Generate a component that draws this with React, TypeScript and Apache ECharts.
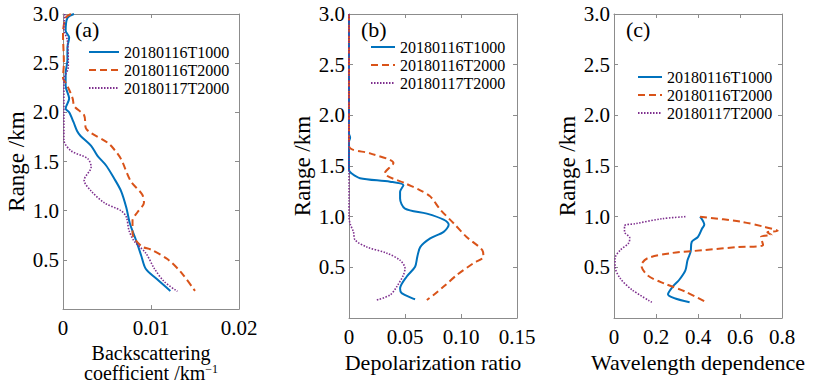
import React, { useEffect, useRef } from "react";
import * as echarts from "echarts";

const seriesNames = ["20180116T1000", "20180116T2000", "20180117T2000"];
const seriesColors = ["#0072BD", "#D95319", "#7E2F8E"];
const panelLabels = ["(a)", "(b)", "(c)"];
const xTitles = ["Backscattering\ncoefficient /km{sup|−1}", "Depolarization ratio", "Wavelength dependence"];
const yTitle = "Range /km";
const xMaxes = [0.02, 0.15, 0.8];
const xIntervals = [0.01, 0.05, 0.2];
const xDecimals = [2, 2, 1];
const yMax = 3;
const yInterval = 0.5;

// Panel (a): backscattering coefficient [value, range]
const bsc1000 = [
  [0.00125, 3.0], [0.0005, 2.96], [0.0003, 2.83], [0.0007, 2.76], [0.0005, 2.66], [0.0005, 2.53],
  [0.0003, 2.4], [0.0003, 2.27], [0.0007, 2.14], [0.0003, 2.04], [0.0007, 2.0], [0.0012, 1.9],
  [0.0016, 1.81], [0.002, 1.76], [0.0032, 1.66], [0.0039, 1.56], [0.0049, 1.46], [0.0058, 1.33],
  [0.0066, 1.2], [0.0072, 1.03], [0.0076, 0.87], [0.0083, 0.7], [0.0089, 0.54], [0.0094, 0.41],
  [0.0106, 0.31], [0.0122, 0.185],
];
const bsc2000a = [
  [0.0009, 3.0], [0.0003, 2.96], [0.0, 2.8], [0.0001, 2.5], [0.0, 2.35], [0.0003, 2.3],
  [0.0007, 2.23], [0.0011, 2.14], [0.0013, 2.06], [0.0024, 1.97], [0.0026, 1.84], [0.0032, 1.79],
  [0.0051, 1.69], [0.0058, 1.625], [0.0066, 1.525], [0.0077, 1.3], [0.009, 1.165], [0.0092, 1.08],
  [0.0085, 0.99], [0.0079, 0.9], [0.0079, 0.77], [0.0089, 0.64], [0.01, 0.605], [0.0119, 0.506],
  [0.0134, 0.375], [0.015, 0.185],
];
const bsc2000b = [
  [0.0002, 3.0], [0.0001, 2.85], [0.0005, 2.73], [0.0006, 2.46], [0.0001, 2.33], [0.0001, 2.0],
  [0.0001, 1.72], [0.0009, 1.61], [0.0028, 1.53], [0.0032, 1.445], [0.0024, 1.31], [0.0032, 1.2],
  [0.0047, 1.08], [0.0066, 1.0], [0.0072, 0.935], [0.0075, 0.8], [0.0081, 0.69], [0.0094, 0.57],
  [0.0104, 0.41], [0.0115, 0.28], [0.013, 0.18],
];

// Panel (b): depolarization ratio [value, range]
const dep1000 = [
  [0, 3.0], [0, 1.82], [0.001, 1.78], [0, 1.74], [0, 1.46], [0.002, 1.43], [0.0098, 1.38],
  [0.0367, 1.345], [0.0486, 1.31], [0.0456, 1.245], [0.0456, 1.18], [0.05, 1.08], [0.0695, 1.03],
  [0.0845, 0.97], [0.089, 0.92], [0.0845, 0.85], [0.0725, 0.785], [0.0636, 0.7], [0.061, 0.605],
  [0.059, 0.506], [0.0516, 0.41], [0.0456, 0.29], [0.047, 0.245], [0.059, 0.185],
];
const dep2000a = [
  [0, 3.0], [0, 1.7], [0.0188, 1.625], [0.0397, 1.53], [0.032, 1.43], [0.05, 1.33], [0.0636, 1.26],
  [0.0725, 1.2], [0.0815, 1.07], [0.0934, 0.935], [0.105, 0.8], [0.119, 0.67], [0.12, 0.605],
  [0.111, 0.54], [0.0964, 0.425], [0.0845, 0.31], [0.0755, 0.227], [0.0695, 0.178],
];
const dep2000b = [
  [0, 3.0], [0, 1.0], [0.001, 0.93], [0.004, 0.85], [0.0054, 0.77], [0.016, 0.7], [0.0338, 0.64],
  [0.0456, 0.57], [0.05, 0.49], [0.0486, 0.425], [0.0427, 0.31], [0.0367, 0.227], [0.0248, 0.178],
];

// Panel (c): wavelength dependence [value, range]
const wav1000 = [
  [0.41, 1.0], [0.43, 0.92], [0.42, 0.885], [0.4, 0.8], [0.37, 0.75], [0.365, 0.655], [0.35, 0.57],
  [0.34, 0.47], [0.31, 0.375], [0.28, 0.31], [0.257, 0.235], [0.36, 0.155],
];
const wav2000a = [
  [0.41, 1.0], [0.605, 0.95], [0.715, 0.9], [0.78, 0.86], [0.73, 0.845], [0.75, 0.82], [0.7, 0.8],
  [0.71, 0.72], [0.59, 0.7], [0.43, 0.67], [0.27, 0.64], [0.16, 0.59], [0.13, 0.52], [0.16, 0.42],
  [0.24, 0.34], [0.34, 0.26], [0.44, 0.155],
];
const wav2000b = [
  [0.34, 1.0], [0.23, 0.98], [0.1, 0.93], [0.05, 0.91], [0.05, 0.85], [0.075, 0.79], [0.07, 0.74],
  [0.03, 0.67], [0.005, 0.59], [0.005, 0.51], [0.03, 0.39], [0.085, 0.28], [0.18, 0.155],
];

const panelData = [
  [bsc1000, bsc2000a, bsc2000b],
  [dep1000, dep2000a, dep2000b],
  [wav1000, wav2000a, wav2000b],
];

const FONT = "'Liberation Serif', 'DejaVu Serif', serif";
const FRAME = "#8c8c8c";

export default function App() {
  const ref = useRef<HTMLDivElement>(null);
  useEffect(() => {
    if (!ref.current) return;
    const chart = echarts.init(ref.current, undefined, { renderer: "svg" });
    const grids = [
      { left: 63, top: 14, width: 176, height: 304 },
      { left: 349, top: 14, width: 168, height: 304 },
      { left: 614, top: 14, width: 168, height: 304 },
    ];
    const legendPos = [
      { left: 88, top: 44, itemWidth: 30 },
      { left: 370, top: 39, itemWidth: 24 },
      { left: 637, top: 69, itemWidth: 24 },
    ];
    const lineStyles = [
      { width: 2, type: "solid" as any },
      { width: 2, type: [7, 4] as any },
      { width: 1.6, type: [1.5, 1.5] as any },
    ];
    const xAxis: any[] = [];
    const yAxis: any[] = [];
    const series: any[] = [];
    const legend: any[] = [];
    const graphic: any[] = [];
    const axisLine = { show: true, onZero: false, lineStyle: { color: FRAME, width: 1 } };
    const axisTick = { show: true, inside: true, length: 4, lineStyle: { color: FRAME } };
    grids.forEach((g, i) => {
      const dec = xDecimals[i];
      xAxis.push({
        gridIndex: i, type: "value", min: 0, max: xMaxes[i], interval: xIntervals[i], position: "bottom",
        axisLine, axisTick, splitLine: { show: false },
        axisLabel: {
          color: "#000", fontFamily: FONT, fontSize: 21, margin: 8,
          formatter: (v: number) => (Math.abs(v) < 1e-9 ? "0" : v.toFixed(dec)),
        },
        name: xTitles[i], nameLocation: "middle", nameGap: 26,
        nameTextStyle: {
          color: "#000", fontFamily: FONT, fontSize: i === 0 ? 20 : 22, lineHeight: i === 0 ? 20 : 22,
          rich: { sup: { fontFamily: FONT, fontSize: 12, verticalAlign: "top", lineHeight: 10, color: "#000" } },
        },
      });
      xAxis.push({
        gridIndex: i, type: "value", min: 0, max: xMaxes[i], interval: xIntervals[i], position: "top",
        axisLine, axisTick, axisLabel: { show: false }, splitLine: { show: false },
      });
      yAxis.push({
        gridIndex: i, type: "value", min: 0, max: yMax, interval: yInterval, position: "left",
        axisLine, axisTick, splitLine: { show: false },
        axisLabel: {
          color: "#000", fontFamily: FONT, fontSize: 21, margin: 4,
          formatter: (v: number) => (Math.abs(v) < 1e-9 ? "" : v.toFixed(1)),
        },
        name: yTitle, nameLocation: "middle", nameGap: 35,
        nameTextStyle: { color: "#000", fontFamily: FONT, fontSize: 23 },
      });
      yAxis.push({
        gridIndex: i, type: "value", min: 0, max: yMax, interval: yInterval, position: "right",
        axisLine, axisTick, axisLabel: { show: false }, splitLine: { show: false },
      });
      panelData[i].forEach((d, k) => {
        series.push({
          type: "line", name: seriesNames[k], xAxisIndex: 2 * i, yAxisIndex: 2 * i,
          data: d, symbol: "none", showSymbol: false, smooth: 0.3,
          lineStyle: { color: seriesColors[k], ...lineStyles[k] },
          itemStyle: { color: seriesColors[k] },
        });
      });
      legend.push({
        orient: "vertical", left: legendPos[i].left, top: legendPos[i].top,
        itemWidth: legendPos[i].itemWidth, itemHeight: 12, itemGap: 2,
        data: seriesNames, selectedMode: false, padding: 0,
        itemStyle: { opacity: 0 },
        textStyle: { color: "#000", fontFamily: FONT, fontSize: 16 },
      });
      graphic.push({
        type: "text", left: g.left + 12, top: 18,
        style: { text: panelLabels[i], fontFamily: FONT, fontSize: 22, fill: "#000" },
      });
    });
    chart.setOption({
      animation: false,
      backgroundColor: "#fff",
      grid: grids,
      xAxis, yAxis, series, legend, graphic,
    });
    return () => chart.dispose();
  }, []);
  return <div ref={ref} style={{ position: "fixed", left: 0, top: 0, width: 814, height: 388 }} />;
}
